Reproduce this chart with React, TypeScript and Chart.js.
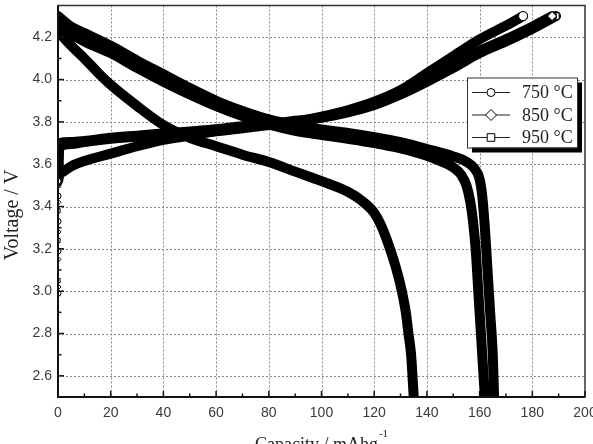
import React, { useEffect, useRef } from 'react';
import { Chart, registerables } from 'chart.js';

Chart.register(...registerables);

// ---------- data ----------
const seriesLabels = ['750 °C', '850 °C', '950 °C'];
const markerStyles = ['circle', 'rectRot', 'rect'];

// charge curves (capacity mAh/g, voltage V)
const charge750Cap = [0, 0, 0, 0, 0, 0.5, 2, 5, 10, 20, 30, 40, 50, 60, 70, 80, 90, 100, 110, 120, 130, 140, 150, 160, 170, 176.5];
const charge750V = [2.99, 3.19, 3.33, 3.45, 3.52, 3.55, 3.565, 3.59, 3.615, 3.65, 3.685, 3.715, 3.735, 3.755, 3.77, 3.785, 3.8, 3.825, 3.855, 3.895, 3.95, 4.03, 4.11, 4.19, 4.255, 4.3];

const charge850Cap = [0, 0, 0, 0, 0, 0.5, 5, 10, 20, 30, 40, 50, 60, 70, 80, 90, 100, 110, 120, 130, 140, 150, 160, 170, 180, 187.5];
const charge850V = [3.02, 3.15, 3.28, 3.42, 3.55, 3.68, 3.695, 3.705, 3.72, 3.73, 3.74, 3.75, 3.76, 3.775, 3.79, 3.8, 3.82, 3.85, 3.885, 3.935, 3.995, 4.065, 4.135, 4.19, 4.25, 4.3];

const charge950Cap = [0, 0, 0, 0, 0, 0.5, 5, 10, 20, 30, 40, 50, 60, 70, 80, 90, 100, 110, 120, 130, 140, 150, 160, 170, 180, 189];
const charge950V = [3.05, 3.24, 3.38, 3.5, 3.6, 3.7, 3.705, 3.71, 3.725, 3.735, 3.745, 3.755, 3.765, 3.78, 3.79, 3.805, 3.82, 3.845, 3.88, 3.93, 3.99, 4.055, 4.125, 4.18, 4.24, 4.3];

// discharge curves
const discharge750Cap = [0, 2, 5, 10, 15, 20, 30, 40, 50, 60, 70, 80, 90, 100, 110, 115, 120, 123, 126, 128.5, 130.5, 132, 133, 134, 135];
const discharge750V = [4.23, 4.2, 4.16, 4.1, 4.035, 3.975, 3.875, 3.785, 3.725, 3.685, 3.645, 3.61, 3.565, 3.52, 3.47, 3.43, 3.37, 3.3, 3.2, 3.1, 3.0, 2.9, 2.8, 2.7, 2.5];

const discharge850Cap = [0, 5, 10, 20, 30, 40, 50, 60, 70, 80, 90, 100, 110, 120, 130, 140, 145, 150, 153, 155, 156.5, 157.5, 158.5, 159.5, 160.5, 161.5, 162];
const discharge850V = [4.27, 4.215, 4.18, 4.125, 4.055, 3.99, 3.93, 3.875, 3.828, 3.788, 3.758, 3.738, 3.72, 3.7, 3.675, 3.64, 3.615, 3.585, 3.55, 3.5, 3.42, 3.33, 3.2, 3.0, 2.8, 2.6, 2.5];

const discharge950Cap = [0, 5, 10, 20, 30, 40, 50, 60, 70, 80, 90, 100, 110, 120, 130, 140, 150, 155, 158, 160, 161, 162, 163, 164, 165, 165.5];
const discharge950V = [4.3, 4.25, 4.22, 4.16, 4.09, 4.025, 3.96, 3.9, 3.852, 3.812, 3.784, 3.764, 3.748, 3.728, 3.704, 3.672, 3.637, 3.612, 3.58, 3.53, 3.45, 3.3, 3.1, 2.9, 2.7, 2.5];

// axes
const xMin = 0;
const xMax = 200;
const yMin = 2.5;
const yMax = 4.35;
const xTicks = [0, 20, 40, 60, 80, 100, 120, 140, 160, 180, 200];
const xTickLabels = ['0', '20', '40', '60', '80', '100', '120', '140', '160', '180', '200'];
const xMinorTicks = [10, 30, 50, 70, 90, 110, 130, 150, 170, 190];
const yTicks = [2.6, 2.8, 3.0, 3.2, 3.4, 3.6, 3.8, 4.0, 4.2];
const yTickLabels = ['2.6', '2.8', '3.0', '3.2', '3.4', '3.6', '3.8', '4.0', '4.2'];
const yMinorTicks = [2.5, 2.7, 2.9, 3.1, 3.3, 3.5, 3.7, 3.9, 4.1, 4.3];
const xTitle = 'Capacity / mAhg';
const xTitleSup = '-1';
const yTitle = 'Voltage / V';

const toPoints = (xs: number[], ys: number[]) => xs.map((x, i) => ({ x, y: ys[i] }));

const SANS = '"Liberation Sans", Arial, sans-serif';
const SERIF = '"Liberation Serif", "Times New Roman", serif';
const LINE_W = 10;

function drawMarker(ctx: CanvasRenderingContext2D, style: string, x: number, y: number) {
  ctx.beginPath();
  if (style === 'circle') {
    ctx.arc(x, y, 4, 0, Math.PI * 2);
  } else if (style === 'rectRot') {
    ctx.moveTo(x, y - 5.5);
    ctx.lineTo(x + 5.5, y);
    ctx.lineTo(x, y + 5.5);
    ctx.lineTo(x - 5.5, y);
    ctx.closePath();
  } else {
    ctx.rect(x - 3.8, y - 3.8, 7.6, 7.6);
  }
  ctx.fillStyle = '#fff';
  ctx.fill();
  ctx.lineWidth = 1;
  ctx.strokeStyle = '#000';
  ctx.stroke();
}

const decorPlugin = {
  id: 'decor',
  beforeDatasetsDraw(chart: any) {
    const { ctx, chartArea: a, scales } = chart;
    const xs = scales.x;
    const ys = scales.y;
    ctx.save();
    ctx.strokeStyle = '#8a8a8a';
    ctx.lineWidth = 1;
    ctx.setLineDash([2, 2]);
    xTicks.forEach((v) => {
      if (v <= xMin || v >= xMax) return;
      const px = Math.round(xs.getPixelForValue(v)) + 0.5;
      ctx.beginPath();
      ctx.moveTo(px, a.top);
      ctx.lineTo(px, a.bottom);
      ctx.stroke();
    });
    yTicks.forEach((v) => {
      const py = Math.round(ys.getPixelForValue(v)) + 0.5;
      ctx.beginPath();
      ctx.moveTo(a.left, py);
      ctx.lineTo(a.right, py);
      ctx.stroke();
    });
    ctx.restore();
  },
  afterDatasetsDraw(chart: any) {
    const { ctx, chartArea: a, scales } = chart;
    const xs = scales.x;
    const ys = scales.y;
    ctx.save();
    ctx.setLineDash([]);
    // frame
    ctx.strokeStyle = '#333';
    ctx.lineWidth = 1.5;
    ctx.strokeRect(a.left, a.top, a.right - a.left, a.bottom - a.top);
    ctx.strokeStyle = '#111';
    ctx.lineWidth = 2;
    ctx.beginPath();
    ctx.moveTo(a.left, a.top);
    ctx.lineTo(a.left, a.bottom);
    ctx.lineTo(a.right, a.bottom);
    ctx.stroke();

    // inward ticks
    ctx.lineWidth = 1.5;
    xTicks.forEach((v) => {
      const px = xs.getPixelForValue(v);
      ctx.beginPath();
      ctx.moveTo(px, a.bottom);
      ctx.lineTo(px, a.bottom - 6);
      ctx.stroke();
    });
    xMinorTicks.forEach((v) => {
      const px = xs.getPixelForValue(v);
      ctx.beginPath();
      ctx.moveTo(px, a.bottom);
      ctx.lineTo(px, a.bottom - 3.5);
      ctx.stroke();
    });
    yTicks.forEach((v) => {
      const py = ys.getPixelForValue(v);
      ctx.beginPath();
      ctx.moveTo(a.left, py);
      ctx.lineTo(a.left + 6, py);
      ctx.stroke();
    });
    yMinorTicks.forEach((v) => {
      const py = ys.getPixelForValue(v);
      ctx.beginPath();
      ctx.moveTo(a.left, py);
      ctx.lineTo(a.left + 3.5, py);
      ctx.stroke();
    });

    // tick labels
    ctx.fillStyle = '#3a3a3a';
    ctx.font = `14px ${SANS}`;
    ctx.textAlign = 'center';
    ctx.textBaseline = 'middle';
    xTicks.forEach((v, i) => {
      ctx.fillText(xTickLabels[i], xs.getPixelForValue(v), a.bottom + 16);
    });
    ctx.textAlign = 'right';
    yTicks.forEach((v, i) => {
      ctx.fillText(yTickLabels[i], a.left - 6, ys.getPixelForValue(v));
    });

    // axis titles
    ctx.fillStyle = '#222';
    ctx.font = `18px ${SERIF}`;
    ctx.textBaseline = 'alphabetic';
    ctx.textAlign = 'left';
    const mainW = ctx.measureText(xTitle).width;
    ctx.font = `11px ${SERIF}`;
    const supW = ctx.measureText(xTitleSup).width;
    const cx = (a.left + a.right) / 2;
    const startX = cx - (mainW + supW + 1) / 2;
    ctx.font = `18px ${SERIF}`;
    ctx.fillText(xTitle, startX, a.bottom + 53);
    ctx.font = `11px ${SERIF}`;
    ctx.fillText(xTitleSup, startX + mainW + 1, a.bottom + 40);

    ctx.save();
    ctx.translate(18, 215);
    ctx.rotate(-Math.PI / 2);
    ctx.font = `20px ${SERIF}`;
    ctx.textAlign = 'center';
    ctx.fillText(yTitle, 0, 0);
    ctx.restore();

    // legend
    const bx = a.right - 118;
    const by = a.top + 72;
    const bw = 110;
    const bh = 70;
    ctx.fillStyle = '#000';
    ctx.fillRect(bx + 5, by + 5, bw, bh);
    ctx.fillStyle = '#fff';
    ctx.fillRect(bx, by, bw, bh);
    ctx.strokeStyle = '#333';
    ctx.lineWidth = 1;
    ctx.strokeRect(bx + 0.5, by + 0.5, bw, bh);
    seriesLabels.forEach((lab, i) => {
      const ry = by + 15 + i * 22.5;
      ctx.strokeStyle = '#222';
      ctx.lineWidth = 1;
      ctx.beginPath();
      ctx.moveTo(bx + 5, ry);
      ctx.lineTo(bx + 43, ry);
      ctx.stroke();
      drawMarker(ctx, markerStyles[i], bx + 24, ry);
      ctx.fillStyle = '#222';
      ctx.font = `18px ${SERIF}`;
      ctx.textAlign = 'left';
      ctx.textBaseline = 'middle';
      ctx.fillText(lab, bx + 55, ry + 1);
    });
    ctx.restore();
  },
};

export default function App() {
  const canvasRef = useRef<HTMLCanvasElement | null>(null);

  useEffect(() => {
    document.body.style.margin = '0';
    const canvas = canvasRef.current;
    if (!canvas) return;

    const mk = (label: string, style: string, xs: number[], ys: number[], isCharge: boolean) => {
      const pts = toPoints(xs, ys);
      const last = pts.length - 1;
      return {
        label,
        data: pts,
        borderColor: '#000',
        backgroundColor: '#000',
        borderWidth: LINE_W,
        borderCapStyle: 'round',
        borderJoinStyle: 'round',
        cubicInterpolationMode: 'monotone',
        clip: 0,
        pointStyle: style,
        pointBackgroundColor: '#fff',
        pointBorderColor: '#000',
        pointBorderWidth: 1,
        pointRadius: (ctx: any) => {
          const i = ctx.dataIndex;
          const p = pts[i];
          if (!p) return 0;
          if (isCharge && i === last) return 4.5;
          if (isCharge && p.x === 0) return 3;
          return 0;
        },
        segment: {
          borderWidth: (ctx: any) => (ctx.p0.parsed.x === 0 && ctx.p1.parsed.x === 0 ? 1 : LINE_W),
        },
      };
    };

    const chart = new Chart(canvas, {
      type: 'line',
      data: {
        datasets: [
          mk(seriesLabels[0], markerStyles[0], discharge750Cap, discharge750V, false),
          mk(seriesLabels[1], markerStyles[1], discharge850Cap, discharge850V, false),
          mk(seriesLabels[2], markerStyles[2], discharge950Cap, discharge950V, false),
          mk(seriesLabels[0], markerStyles[0], charge750Cap, charge750V, true),
          mk(seriesLabels[1], markerStyles[1], charge850Cap, charge850V, true),
          mk(seriesLabels[2], markerStyles[2], charge950Cap, charge950V, true),
        ] as any,
      },
      options: {
        responsive: false,
        animation: false,
        layout: { padding: { top: 5, right: 8, left: 0, bottom: 0 } },
        plugins: { legend: { display: false }, tooltip: { enabled: false } },
        scales: {
          x: {
            type: 'linear',
            min: xMin,
            max: xMax,
            ticks: { display: false },
            grid: { display: false },
            border: { display: false },
            afterFit: (s: any) => {
              s.height = 47;
            },
          },
          y: {
            type: 'linear',
            min: yMin,
            max: yMax,
            ticks: { display: false },
            grid: { display: false },
            border: { display: false },
            afterFit: (s: any) => {
              s.width = 58;
            },
          },
        },
      } as any,
      plugins: [decorPlugin],
    });

    return () => chart.destroy();
  }, []);

  return (
    <div style={{ width: 593, height: 444, background: '#fff' }}>
      <canvas ref={canvasRef} width={593} height={444} style={{ display: 'block', width: 593, height: 444 }} />
    </div>
  );
}
